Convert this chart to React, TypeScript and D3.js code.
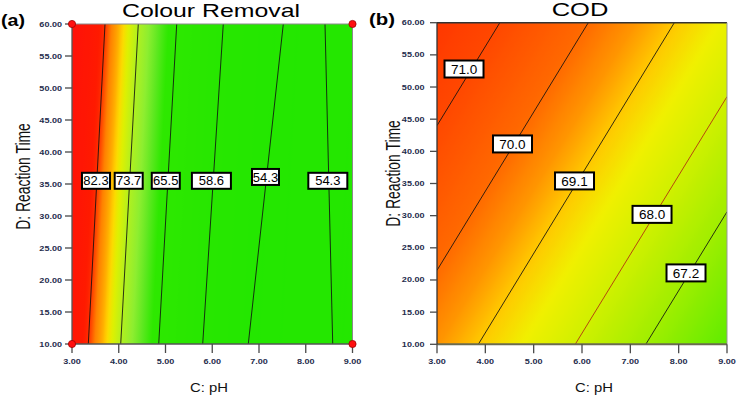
import React from 'react';
import * as d3 from 'd3';

// ---------- data ----------
const pHTicks = [3, 4, 5, 6, 7, 8, 9];
const timeTicks = [10, 15, 20, 25, 30, 35, 40, 45, 50, 55, 60];
const pHDomain = [3, 9];
const timeDomain = [10, 60];

// Colour Removal contours: level, start [pH, time], end [pH, time]
const crLevels = [82.3, 73.7, 65.5, 58.6, 54.3, 54.3];
const crStart = [[3.349, 10], [4.042, 10], [4.855, 10], [5.796, 10], [6.771, 10], [8.577, 10]];
const crEnd = [[3.706, 60], [4.418, 60], [5.24, 60], [6.236, 60], [7.52, 60], [8.412, 60]];
const crLabelPos = [[3.513, 35.5], [4.213, 35.5], [5.006, 35.5], [5.982, 35.5], [7.139, 36.1], [8.472, 35.5]];

// COD contours
const codLevels = [71.0, 70.0, 69.1, 68.0, 67.2];
const codStart = [[3, 44.0], [3, 21.5], [3.855, 10], [5.86, 10], [7.32, 10]];
const codEnd = [[4.3, 60], [6.13, 60], [7.91, 60], [9, 48.5], [9, 30.6]];
const codLabelPos = [[3.559, 52.8], [4.562, 41.15], [5.845, 35.4], [7.449, 30.2], [8.152, 21.1]];

// ---------- styles ----------
const crColorDomain = [50, 67.2, 69.3, 71.4, 73.6, 76.2, 77.5, 78.8, 80.6, 82.3, 83.5, 90];
const crColorRange = ['#20e600', '#2ee800', '#5ee820', '#8eee30', '#b0f020', '#e0f000', '#ffd800', '#ffaa00', '#ff8000', '#ff3000', '#ff1a00', '#ff1208'];
const codColorDomain = [66.3, 67.2, 68.0, 68.6, 69.1, 69.5, 70.0, 71.0, 72];
const codColorRange = ['#60ec00', '#a0ee00', '#d0f000', '#f0f000', '#ffc800', '#ff9600', '#ff6a00', '#ff4800', '#ff3000'];
const crBoxWidths = [28, 28, 28, 39, 27, 39];
const codBoxWidths = [39, 39, 39, 39, 39];

const FONT = "'Liberation Sans', Arial, sans-serif";

type PanelProps = {
  id: string;
  x0: number; x1: number; y0: number; y1: number;
  levels: number[]; starts: number[][]; ends: number[][]; labelPos: number[][];
  colorDomain: number[]; colorRange: string[];
  boxWidths: number[]; boxH: number; labelFont: number;
  lineColors: string[];
  dots: boolean;
  yTitleX: number; yTitleY: number;
  xTitleX: number;
  yTickRight: number;
  frame: { top: string; right: string; bottom: string; left: string; bottomW: number; topW: number };
};

function Panel(p: PanelProps) {
  const xs = d3.scaleLinear().domain(pHDomain).range([p.x0, p.x1]);
  const ys = d3.scaleLinear().domain(timeDomain).range([p.y1, p.y0]);

  // pixel lines
  const segs = p.levels.map((lv, i) => {
    let a = [xs(p.starts[i][0]), ys(p.starts[i][1])];
    let b = [xs(p.ends[i][0]), ys(p.ends[i][1])];
    return { lv, a, b };
  });
  // average direction (pointing up)
  let dx = 0, dy = 0;
  segs.forEach(({ a, b }) => {
    let vx = b[0] - a[0], vy = b[1] - a[1];
    if (vy > 0) { vx = -vx; vy = -vy; }
    const L = Math.hypot(vx, vy);
    dx += vx / L; dy += vy / L;
  });
  const dl = Math.hypot(dx, dy);
  dx /= dl; dy /= dl;
  const nx = -dy, ny = dx;
  const corners = [[p.x0, p.y0], [p.x1, p.y0], [p.x0, p.y1], [p.x1, p.y1]];
  const cs = corners.map(c => c[0] * nx + c[1] * ny);
  const smin = Math.min(...cs), smax = Math.max(...cs);
  const sLines = segs.map(({ a, b }) => ((a[0] + b[0]) / 2) * nx + ((a[1] + b[1]) / 2) * ny);
  const valueAt = d3.scaleLinear().domain(sLines).range(p.levels);
  const color = d3.scaleLinear<string>().domain(p.colorDomain).range(p.colorRange).interpolate(d3.interpolateRgb).clamp(true);
  const N = 120;
  const stops = d3.range(N + 1).map(i => {
    const s = smin + (smax - smin) * i / N;
    return { off: i / N, c: color(valueAt(s)) };
  });

  const tickCol = '#4a4a4a';
  const tickLabCol = '#1f2d4d';

  return (
    <g>
      <defs>
        <linearGradient id={p.id} gradientUnits="userSpaceOnUse" x1={nx * smin} y1={ny * smin} x2={nx * smax} y2={ny * smax}>
          {stops.map((s, i) => <stop key={i} offset={s.off} stopColor={s.c} />)}
        </linearGradient>
        <clipPath id={p.id + 'clip'}>
          <rect x={p.x0} y={p.y0} width={p.x1 - p.x0} height={p.y1 - p.y0} />
        </clipPath>
      </defs>
      <rect x={p.x0} y={p.y0} width={p.x1 - p.x0} height={p.y1 - p.y0} fill={`url(#${p.id})`} />
      <g clipPath={`url(#${p.id}clip)`}>
        {segs.map((s, i) => (
          <line key={i} x1={s.a[0]} y1={s.a[1]} x2={s.b[0]} y2={s.b[1]} stroke={p.lineColors[i]} strokeWidth={1} strokeOpacity={0.85} />
        ))}
      </g>
      {/* frame */}
      <line x1={p.x0} y1={p.y0} x2={p.x1} y2={p.y0} stroke={p.frame.top} strokeWidth={p.frame.topW} />
      <line x1={p.x1} y1={p.y0} x2={p.x1} y2={p.y1} stroke={p.frame.right} strokeWidth={1} />
      <line x1={p.x0} y1={p.y1} x2={p.x1} y2={p.y1} stroke={p.frame.bottom} strokeWidth={p.frame.bottomW} />
      <line x1={p.x0} y1={p.y0} x2={p.x0} y2={p.y1} stroke={p.frame.left} strokeWidth={1.3} />
      {/* labels */}
      {p.levels.map((lv, i) => {
        const cx = xs(p.labelPos[i][0]), cy = ys(p.labelPos[i][1]);
        const w = p.boxWidths[i];
        return (
          <g key={i}>
            <rect x={cx - w / 2} y={cy - p.boxH / 2} width={w} height={p.boxH} fill="#fff" stroke="#000" strokeWidth={2} />
            <text x={cx} y={cy + p.labelFont * 0.36} textAnchor="middle" fontFamily={FONT} fontSize={p.labelFont} fill="#000">{lv.toFixed(1)}</text>
          </g>
        );
      })}
      {/* x ticks */}
      {pHTicks.map(t => (
        <g key={t}>
          <line x1={xs(t)} x2={xs(t)} y1={p.y1} y2={p.y1 + 9} stroke={tickCol} strokeWidth={1.3} />
          <g transform={`translate(${xs(t)},${p.y1 + 19.5}) scale(1.33,1)`}>
            <text textAnchor="middle" fontFamily={FONT} fontWeight="bold" fontSize={6.8} fill={tickLabCol}>{t.toFixed(2)}</text>
          </g>
        </g>
      ))}
      {/* y ticks */}
      {timeTicks.map(t => (
        <g key={t}>
          <line x1={p.x0 - 7} x2={p.x0} y1={ys(t)} y2={ys(t)} stroke={tickCol} strokeWidth={1.3} />
          <g transform={`translate(${p.yTickRight},${ys(t) + 2.5}) scale(1.33,1)`}>
            <text textAnchor="end" fontFamily={FONT} fontWeight="bold" fontSize={6.8} fill={tickLabCol}>{t.toFixed(2)}</text>
          </g>
        </g>
      ))}
      {p.dots && corners.map((c, i) => (
        <circle key={i} cx={c[0]} cy={c[1]} r={3.6} fill="#ff1010" stroke="#a00000" strokeWidth={0.8} />
      ))}
      {/* axis titles */}
      <text x={p.xTitleX} y={392} textAnchor="middle" fontFamily={FONT} fontSize={12.6} fill="#111" textLength={38} lengthAdjust="spacingAndGlyphs">C: pH</text>
      <g transform={`translate(${p.yTitleX},${p.yTitleY}) scale(1.4,1) rotate(-90)`}>
        <text textAnchor="middle" fontFamily={FONT} fontSize={13.9} fill="#111">D: Reaction Time</text>
      </g>
    </g>
  );
}

export default function App() {
  return (
    <svg width={738} height={400} style={{ position: 'absolute', left: 0, top: 0, background: '#fff' }}>
      <rect x={0} y={0} width={738} height={400} fill="#fff" />
      <text x={1} y={25.5} fontFamily={FONT} fontWeight="bold" fontSize={17} textLength={24} lengthAdjust="spacingAndGlyphs" fill="#000">(a)</text>
      <text x={369} y={25} fontFamily={FONT} fontWeight="bold" fontSize={17} textLength={26} lengthAdjust="spacingAndGlyphs" fill="#000">(b)</text>
      <text x={211} y={17} textAnchor="middle" fontFamily={FONT} fontSize={18.5} textLength={178} lengthAdjust="spacingAndGlyphs" fill="#000">Colour Removal</text>
      <text x={580} y={16} textAnchor="middle" fontFamily={FONT} fontSize={18} textLength={56.6} lengthAdjust="spacingAndGlyphs" fill="#000">COD</text>
      <Panel
        id="cr" x0={72} x1={352.5} y0={24} y1={344}
        levels={crLevels} starts={crStart} ends={crEnd} labelPos={crLabelPos}
        colorDomain={crColorDomain} colorRange={crColorRange}
        boxWidths={crBoxWidths} boxH={16} labelFont={13}
        lineColors={crLevels.map(() => '#111')}
        dots={true}
        yTitleX={30} yTitleY={176.5} xTitleX={209} yTickRight={62}
        frame={{ top: '#8a8a8a', right: '#8a8a8a', bottom: '#555', left: '#555', bottomW: 1.3, topW: 1 }}
      />
      <Panel
        id="cod" x0={437} x1={727} y0={22.7} y1={344.3}
        levels={codLevels} starts={codStart} ends={codEnd} labelPos={codLabelPos}
        colorDomain={codColorDomain} colorRange={codColorRange}
        boxWidths={codBoxWidths} boxH={17} labelFont={13.5}
        lineColors={codLevels.map(l => (l === 68.0 ? '#b02a10' : '#111'))}
        dots={false}
        yTitleX={400} yTitleY={173.5} xTitleX={594} yTickRight={424.5}
        frame={{ top: '#333', right: '#999', bottom: '#6b6b50', left: '#333', bottomW: 2, topW: 1.5 }}
      />
    </svg>
  );
}
